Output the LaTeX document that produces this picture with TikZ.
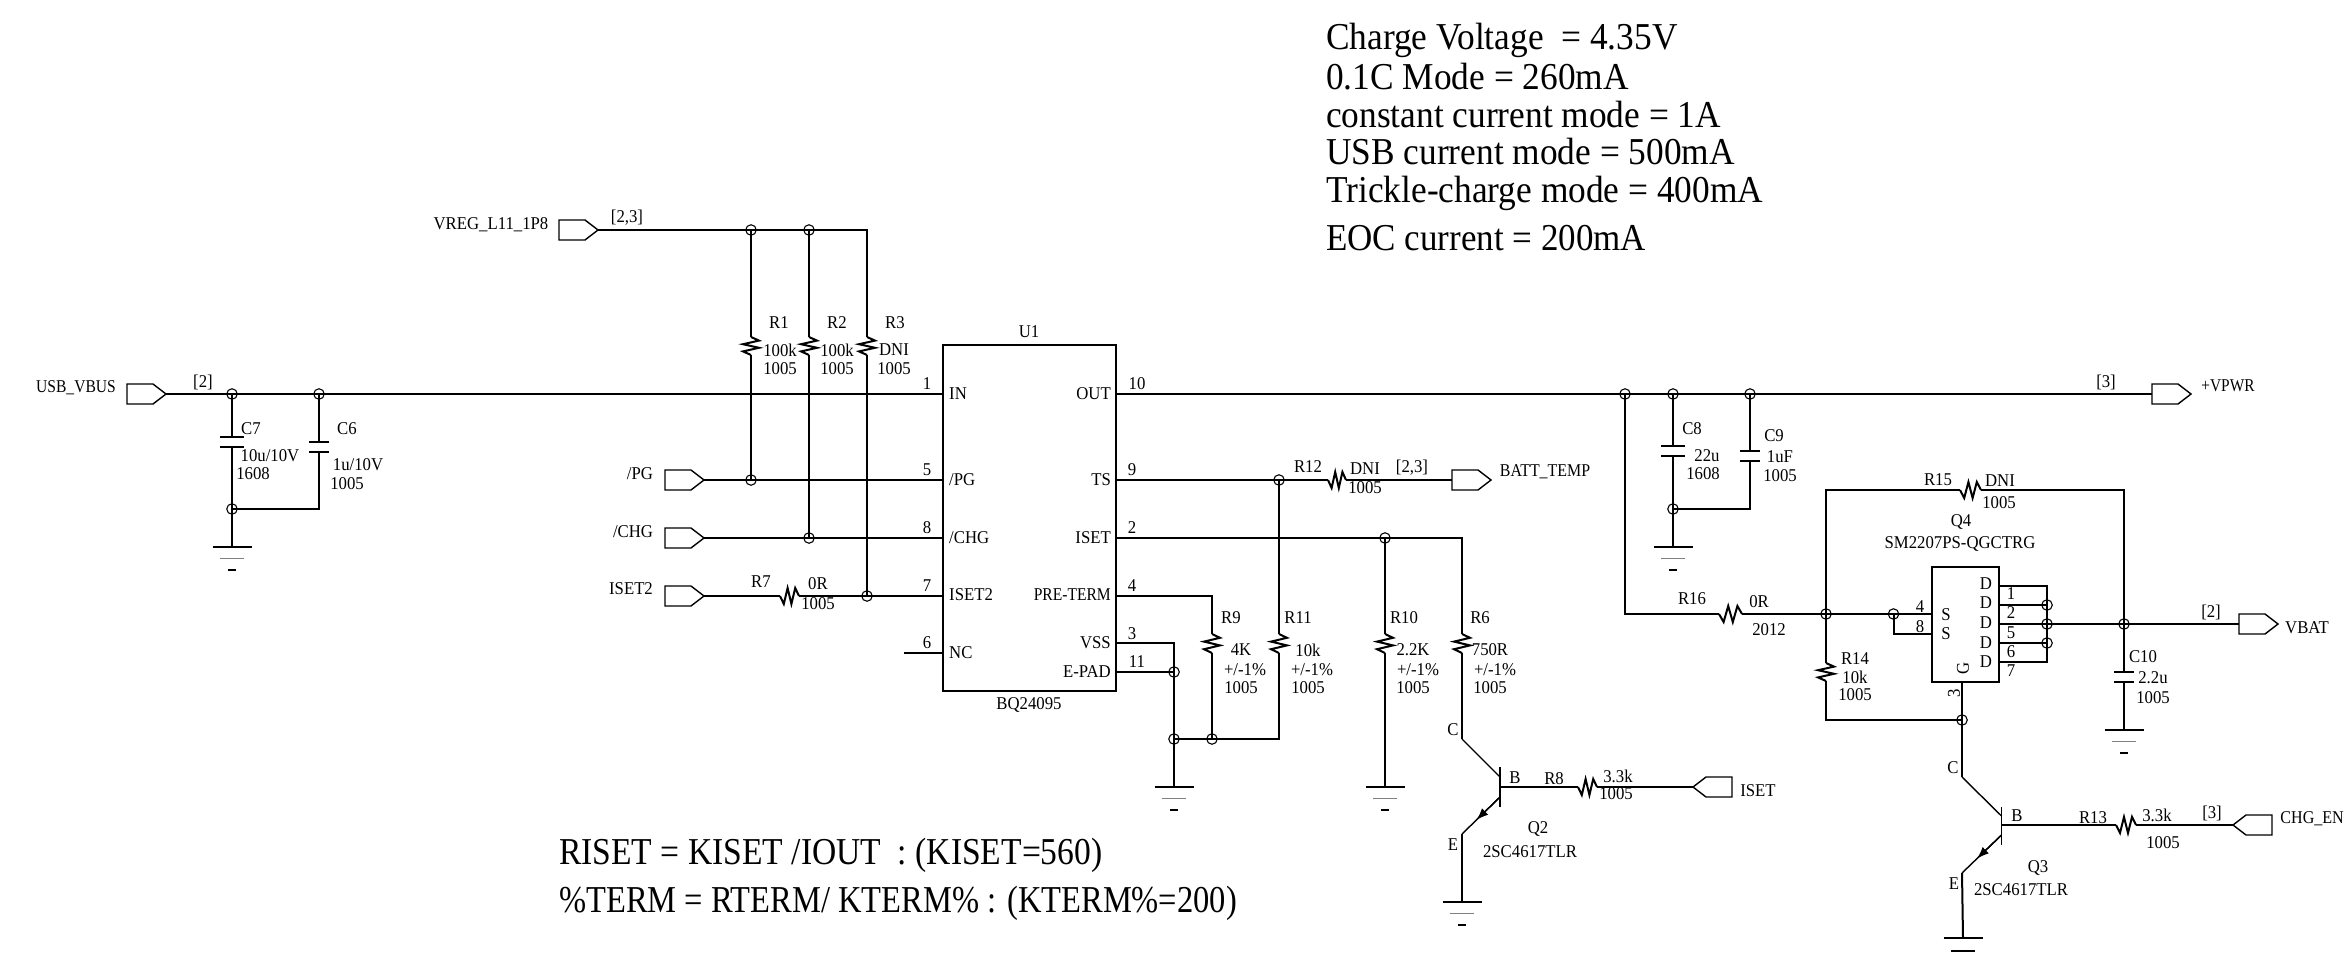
\documentclass[tikz,border=0pt]{standalone}
\usepackage{fontspec}
\usepackage{graphicx}
\usetikzlibrary{calc,arrows.meta}
\setmainfont[FakeStretch=0.93]{Liberation Serif}
\newcommand{\cnd}[2]{\scalebox{#1}[1]{#2}}
\tikzset{
  x=1pt,y=-1pt,
  wire/.style={line width=2pt,line join=miter},
  thinw/.style={line width=1.4pt},
  junc/.style={circle,draw,line width=1.1pt,minimum size=10.5pt,inner sep=0pt},
  lbl/.style={inner sep=0pt,font=\fontsize{18}{19}\selectfont},
  big/.style={inner sep=0pt,anchor=west,font=\fontsize{38}{40}\selectfont},
}
\newcommand{\resV}[4]{% name x y0 y1
  \coordinate (#1-a) at (#2,#3); \coordinate (#1-b) at (#2,#4);
  \draw[wire] (#1-a) -- ($(#1-a)!.2!(#1-b)+(8,0)$) -- ($(#1-a)!.4!(#1-b)+(-8,0)$)
   -- ($(#1-a)!.6!(#1-b)+(8,0)$) -- ($(#1-a)!.8!(#1-b)+(-8,0)$) -- (#1-b);}
\newcommand{\resH}[4]{% name x0 x1 y
  \coordinate (#1-a) at (#2,#4); \coordinate (#1-b) at (#3,#4);
  \draw[wire] (#1-a) -- ($(#1-a)!.2!(#1-b)+(0,8)$) -- ($(#1-a)!.4!(#1-b)+(0,-8)$)
   -- ($(#1-a)!.6!(#1-b)+(0,8)$) -- ($(#1-a)!.8!(#1-b)+(0,-8)$) -- (#1-b);}
\newcommand{\capV}[5]{% name x y0 y1 halfwidth
  \coordinate (#1-a) at (#2,#3); \coordinate (#1-b) at (#2,#4);
  \draw[wire] ($(#1-a)+(-#5,0)$) -- ($(#1-a)+(#5,0)$);
  \draw[wire] ($(#1-b)+(-#5,0)$) -- ($(#1-b)+(#5,0)$);}
\newcommand{\gnd}[3]{% name x y
  \coordinate (#1) at (#2,#3);
  \draw[thinw] ($(#1)+(-19.5,0)$) -- ($(#1)+(19.5,0)$);
  \draw[thinw,gray] ($(#1)+(-12,11.5)$) -- ($(#1)+(12,11.5)$);
  \draw[thinw] ($(#1)+(-4,23)$) -- ($(#1)+(4,23)$);}
\newcommand{\flagR}[3]{% name left-x y  (pointing right)
  \coordinate (#1-l) at (#2,#3); \coordinate (#1-r) at ($(#1-l)+(39,0)$);
  \draw[thinw] (#1-r) -- ++(-13,-10) -- ++(-26,0) -- ++(0,20) -- ++(26,0) -- cycle;}
\newcommand{\flagL}[3]{% name tip-x y  (pointing left)
  \coordinate (#1-l) at (#2,#3); \coordinate (#1-r) at ($(#1-l)+(39,0)$);
  \draw[thinw] (#1-l) -- ++(13,-10) -- ++(26,0) -- ++(0,20) -- ++(-26,0) -- cycle;}
\begin{document}
\begin{tikzpicture}
\useasboundingbox (0,0) rectangle (2345,961);
% ---------- big notes
\node[big] (n1) at (1326,40) {Charge Voltage\ \ = 4.35V};
\node[big] (n2) at (1326,76.5) {0.1C Mode = 260mA};
\node[big] (n3) at (1326,114.5) {constant current mode = 1A};
\node[big] (n4) at (1326,151.5) {USB current mode = 500mA};
\node[big] (n5) at (1326,193) {Trickle-charge mode = 400mA};
\node[big] (n6) at (1326,238.5) {\cnd{0.99}{EOC current = 200mA}};
\node[big] (n7) at (559,855) {\cnd{0.95}{RISET = KISET /IOUT\ \ : (KISET=560)}};
\node[big] (n8) at (559,903) {\cnd{0.92}{\%TERM = RTERM/ KTERM\% : (KTERM\%=200)}};
% ---------- flags
\flagR{fVbus}{127}{394}
\flagR{fVreg}{559}{230}
\flagR{fPG}{665}{480}
\flagR{fCHG}{665}{538}
\flagR{fIset2}{665}{596}
\flagR{fBatt}{1452}{480}
\flagR{fVpwr}{2152}{394}
\flagR{fVbat}{2239}{624}
\flagL{fIset}{1693}{787}
\flagL{fEn}{2233}{825}
% ---------- U1
\node[draw,line width=2pt,minimum width=173pt,minimum height=346pt,inner sep=0pt] (U1) at (1029.5,518) {};
\coordinate (pIN) at (943,394);
\coordinate (pPG) at (943,480);
\coordinate (pCHG) at (943,538);
\coordinate (pIS2) at (943,596);
\coordinate (pNC) at (943,653);
\coordinate (pOUT) at (1116,394);
\coordinate (pTS) at (1116,480);
\coordinate (pISET) at (1116,538);
\coordinate (pPRE) at (1116,596);
\coordinate (pVSS) at (1116,643);
\coordinate (pEP) at (1116,672);
\coordinate (ncEnd) at (904,653);
% ---------- Q4
\node[draw,line width=1.6pt,minimum width=67pt,minimum height=115pt,inner sep=0pt] (Q4) at (1965.5,624.5) {};
\coordinate (d1) at (1999,586);
\coordinate (d2) at (1999,605);
\coordinate (d3) at (1999,624);
\coordinate (d4) at (1999,643);
\coordinate (d5) at (1999,662);
\coordinate (s1) at (1932,614);
\coordinate (s2) at (1932,634);
\coordinate (qG) at (1962,682);
% ---------- junctions
\node[junc] (jC7) at (232,394) {};
\node[junc] (jC6) at (319,394) {};
\node[junc] (jC7b) at (232,509) {};
\node[junc] (jR1t) at (751,230) {};
\node[junc] (jR2t) at (809,230) {};
\coordinate (cR3t) at (867,230);
\node[junc] (jR1b) at (751,480) {};
\node[junc] (jR2b) at (809,538) {};
\node[junc] (jR3b) at (867,596) {};
\node[junc] (jTS) at (1279,480) {};
\node[junc] (jIS) at (1385,538) {};
\node[junc] (jEP) at (1174,672) {};
\node[junc] (jG1) at (1174,739) {};
\node[junc] (jG2) at (1212,739) {};
\node[junc] (jO1) at (1625,394) {};
\node[junc] (jO2) at (1673,394) {};
\node[junc] (jO3) at (1750,394) {};
\node[junc] (jC8b) at (1673,509) {};
\node[junc] (jS) at (1826,614) {};
\node[junc] (jS4) at (1893.5,614) {};
\node[junc] (jD2) at (2047,605) {};
\node[junc] (jD3) at (2047,624) {};
\node[junc] (jD4) at (2047,643) {};
\node[junc] (jB) at (2124,624) {};
\node[junc] (jGt) at (1962,720) {};
% ---------- passives
\resV{R1}{751}{337}{355}
\resV{R2}{809}{337}{355}
\resV{R3}{867}{337}{355}
\resH{R7}{780}{799}{596}
\resH{R12}{1328}{1346}{480}
\resV{R9}{1212}{634}{653}
\resV{R11}{1279}{634}{653}
\resV{R10}{1385}{634}{653}
\resV{R6}{1462}{634}{653}
\resH{R8}{1578}{1597}{787}
\resH{R13}{2116}{2136}{825}
\resH{R16}{1719}{1742}{614}
\resH{R15}{1960}{1981}{490}
\resV{R14}{1826}{663}{681}
\capV{C7}{232}{437}{447}{12}
\capV{C6}{319}{442}{452}{10}
\capV{C8}{1673}{446}{456}{12}
\capV{C9}{1750}{451}{461}{10}
\capV{C10}{2124}{672}{682}{10}
% ---------- grounds
\gnd{g7}{232}{547}
\gnd{g1}{1174}{787}
\gnd{g10}{1385}{787}
\gnd{g8}{1673}{547}
\gnd{g11}{2124}{730}
\gnd{gQ2}{1462}{902}
\coordinate (gQ3) at (1963,938);
\draw[thinw] ($(gQ3)+(-19.5,0)$) -- ($(gQ3)+(19.5,0)$);
\draw[thinw] ($(gQ3)+(-12,13)$) -- ($(gQ3)+(12,13)$);
% ---------- transistors
\coordinate (q2c) at (1462,739);
\coordinate (q2bc) at (1500,777);
\coordinate (q2be) at (1500,797);
\coordinate (q2b) at (1500,787);
\coordinate (q2e) at (1462,834);
\coordinate (q2t) at (1500,767);
\coordinate (q2u) at (1500,807);
\coordinate (q3c) at (1962,777);
\coordinate (q3bc) at (2001.5,816);
\coordinate (q3be) at (2001.5,835);
\coordinate (q3b) at (2001.5,825);
\coordinate (q3e) at (1962,873);
\coordinate (q3t) at (2001.5,807);
\coordinate (q3u) at (2001.5,845);
\draw[thinw] (q2t) -- (q2u);
\draw[thinw] (q3t) -- (q3u);
\draw[thinw] (q2c) -- (q2bc);
\draw[thinw] (q3c) -- (q3bc);
\draw[thinw,-{Latex[length=12pt,width=9pt]}] (q2be) -- ($(q2be)!.62!(q2e)$);
\draw[thinw] (q2be) -- (q2e);
\draw[thinw,-{Latex[length=12pt,width=9pt]}] (q3be) -- ($(q3be)!.62!(q3e)$);
\draw[thinw] (q3be) -- (q3e);
% ---------- wires
\draw[wire] (fVbus-r) -- (jC7.center) -- (jC6.center) -- (pIN);
\draw[wire] (jC7.center) -- (C7-a);
\draw[wire] (C7-b) -- (jC7b.center) -- (g7);
\draw[wire] (jC6.center) -- (C6-a);
\draw[wire] (C6-b) |- (jC7b.center);
\draw[wire] (fVreg-r) -- (jR1t.center) -- (jR2t.center) -- (cR3t) -- (R3-a);
\draw[wire] (jR1t.center) -- (R1-a);
\draw[wire] (jR2t.center) -- (R2-a);
\draw[wire] (R1-b) -- (jR1b.center);
\draw[wire] (R2-b) -- (jR2b.center);
\draw[wire] (R3-b) -- (jR3b.center);
\draw[wire] (fPG-r) -- (jR1b.center) -- (pPG);
\draw[wire] (fCHG-r) -- (jR2b.center) -- (pCHG);
\draw[wire] (fIset2-r) -- (R7-a);
\draw[wire] (R7-b) -- (jR3b.center) -- (pIS2);
\draw[wire] (ncEnd) -- (pNC);
\draw[wire] (pOUT) -- (jO1.center) -- (jO2.center) -- (jO3.center) -- (fVpwr-l);
\draw[wire] (pTS) -- (jTS.center) -- (R12-a);
\draw[wire] (R12-b) -- (fBatt-l);
\draw[wire] (jTS.center) -- (R11-a);
\draw[wire] (R11-b) |- (jG2.center) -- (jG1.center);
\draw[wire] (pISET) -- (jIS.center) -| (R6-a);
\draw[wire] (jIS.center) -- (R10-a);
\draw[wire] (R10-b) -- (g10);
\draw[wire] (R6-b) -- (q2c);
\draw[wire] (pPRE) -| (R9-a);
\draw[wire] (R9-b) -- (jG2.center);
\draw[wire] (pVSS) -| (jEP.center);
\draw[wire] (pEP) -- (jEP.center) -- (jG1.center) -- (g1);
\draw[wire] (q2b) -- (R8-a);
\draw[wire] (R8-b) -- (fIset-l);
\draw[wire] (q2e) -- (gQ2);
\draw[wire] (jO2.center) -- (C8-a);
\draw[wire] (C8-b) -- (jC8b.center) -- (g8);
\draw[wire] (jO3.center) -- (C9-a);
\draw[wire] (C9-b) |- (jC8b.center);
\draw[wire] (jO1.center) |- (R16-a);
\draw[wire] (R16-b) -- (jS.center) -- (jS4.center) -- (s1);
\draw[wire] (jS4.center) |- (s2);
\draw[wire] (jS.center) |- (R15-a);
\draw[wire] (R15-b) -| (jB.center);
\draw[wire] (jS.center) -- (R14-a);
\draw[wire] (R14-b) |- (jGt.center);
\draw[wire] (qG) -- (jGt.center) -- (q3c);
\draw[wire] (d1) -| (jD2.center);
\draw[wire] (d2) -- (jD2.center) -- (jD3.center) -- (jD4.center);
\draw[wire] (d3) -- (jD3.center) -- (jB.center) -- (fVbat-l);
\draw[wire] (d4) -- (jD4.center);
\draw[wire] (d5) -| (jD4.center);
\draw[wire] (jB.center) -- (C10-a);
\draw[wire] (C10-b) -- (g11);
\draw[wire] (q3b) -- (R13-a);
\draw[wire] (R13-b) -- (fEn-l);
\draw[wire] (q3e) -- (gQ3);
% ---------- net labels
\node[lbl] (t1) at (76,388) {\cnd{0.93}{USB\_VBUS}};
\node[lbl] (t2) at (203,382) {[2]};
\node[lbl] (t3) at (491,225) {VREG\_L11\_1P8};
\node[lbl] (t4) at (627,218) {[2,3]};
\node[lbl] (t5) at (640,474) {/PG};
\node[lbl] (t6) at (633,532) {/CHG};
\node[lbl] (t7) at (631,589) {ISET2};
\node[lbl] (t8) at (1545,472) {\cnd{0.95}{BATT\_TEMP}};
\node[lbl] (t9) at (1412,468) {[2,3]};
\node[lbl] (t10) at (2228,386) {\cnd{0.92}{+VPWR}};
\node[lbl] (t11) at (2106,382) {[3]};
\node[lbl] (t12) at (2307,628) {VBAT};
\node[lbl] (t13) at (2211,612) {[2]};
\node[lbl] (t14) at (1758,791) {ISET};
\node[lbl,anchor=east] (t15) at (2344,819) {\cnd{0.96}{CHG\_EN}};
\node[lbl] (t16) at (2212,813) {[3]};
% ---------- caps
\node[lbl] (c1) at (251,429) {C7};
\node[lbl] (c2) at (270,456) {10u/10V};
\node[lbl] (c3) at (253,474) {1608};
\node[lbl] (c4) at (347,429) {C6};
\node[lbl] (c5) at (358,465) {1u/10V};
\node[lbl] (c6) at (347,484) {1005};
\node[lbl] (c7) at (1692,429) {C8};
\node[lbl] (c8) at (1707,456) {22u};
\node[lbl] (c9) at (1703,474) {1608};
\node[lbl] (c10) at (1774,436) {C9};
\node[lbl] (c11) at (1780,457) {1uF};
\node[lbl] (c12) at (1780,476) {1005};
\node[lbl] (c13) at (2143,657) {C10};
\node[lbl] (c14) at (2153,678) {2.2u};
\node[lbl] (c15) at (2153,698) {1005};
% ---------- resistors
\node[lbl] (r1) at (779,323) {R1};
\node[lbl] (r1v) at (780,350) {100k};
\node[lbl] (r1p) at (780,369) {1005};
\node[lbl] (r2) at (837,323) {R2};
\node[lbl] (r2v) at (837,350) {100k};
\node[lbl] (r2p) at (837,369) {1005};
\node[lbl] (r3) at (895,323) {R3};
\node[lbl] (r3v) at (894,350) {DNI};
\node[lbl] (r3p) at (894,369) {1005};
\node[lbl] (r7) at (761,582) {R7};
\node[lbl] (r7v) at (818,584) {0R};
\node[lbl] (r7p) at (818,604) {1005};
\node[lbl] (r12) at (1308,467) {R12};
\node[lbl] (r12v) at (1365,469) {DNI};
\node[lbl] (r12p) at (1365,488) {1005};
\node[lbl] (r9) at (1231,618) {R9};
\node[lbl] (r9v) at (1241,650) {4K};
\node[lbl] (r9t) at (1245,670) {+/-1\%};
\node[lbl] (r9p) at (1241,688) {1005};
\node[lbl] (r11) at (1298,618) {R11};
\node[lbl] (r11v) at (1308,650) {10k};
\node[lbl] (r11t) at (1312,670) {+/-1\%};
\node[lbl] (r11p) at (1308,688) {1005};
\node[lbl] (r10) at (1404,618) {R10};
\node[lbl] (r10v) at (1413,650) {2.2K};
\node[lbl] (r10t) at (1418,670) {+/-1\%};
\node[lbl] (r10p) at (1413,688) {1005};
\node[lbl] (r6) at (1480,618) {R6};
\node[lbl] (r6v) at (1490,650) {750R};
\node[lbl] (r6t) at (1495,670) {+/-1\%};
\node[lbl] (r6p) at (1490,688) {1005};
\node[lbl] (r8) at (1554,779) {R8};
\node[lbl] (r8v) at (1618,776) {3.3k};
\node[lbl] (r8p) at (1616,794) {1005};
\node[lbl] (r13) at (2093,818) {R13};
\node[lbl] (r13v) at (2157,815) {3.3k};
\node[lbl] (r13p) at (2163,843) {1005};
\node[lbl] (r16) at (1692,599) {R16};
\node[lbl] (r16v) at (1759,602) {0R};
\node[lbl] (r16p) at (1769,630) {2012};
\node[lbl] (r15) at (1938,480) {R15};
\node[lbl] (r15v) at (2000,481) {DNI};
\node[lbl] (r15p) at (1999,503) {1005};
\node[lbl] (r14) at (1855,659) {R14};
\node[lbl] (r14v) at (1855,677) {10k};
\node[lbl] (r14p) at (1855,695) {1005};
% ---------- U1 text
\node[lbl] (u1a) at (1029,332) {U1};
\node[lbl] (u1b) at (1029,705) {BQ24095};
\node[lbl,anchor=west] (ul1) at (949,394) {IN};
\node[lbl,anchor=west] (ul2) at (949,480) {/PG};
\node[lbl,anchor=west] (ul3) at (949,538) {/CHG};
\node[lbl,anchor=west] (ul4) at (949,595) {ISET2};
\node[lbl,anchor=west] (ul5) at (949,653) {NC};
\node[lbl,anchor=east] (ur1) at (1111,394) {OUT};
\node[lbl,anchor=east] (ur2) at (1111,480) {TS};
\node[lbl,anchor=east] (ur3) at (1111,538) {ISET};
\node[lbl,anchor=east] (ur4) at (1111,595) {\cnd{0.93}{PRE-TERM}};
\node[lbl,anchor=east] (ur5) at (1111,643) {VSS};
\node[lbl,anchor=east] (ur6) at (1111,672) {E-PAD};
\node[lbl] (pn1) at (927,384) {1};
\node[lbl] (pn5) at (927,470) {5};
\node[lbl] (pn8) at (927,528) {8};
\node[lbl] (pn7) at (927,586) {7};
\node[lbl] (pn6) at (927,643) {6};
\node[lbl] (pn10) at (1137,384) {10};
\node[lbl] (pn9) at (1132,470) {9};
\node[lbl] (pn2) at (1132,528) {2};
\node[lbl] (pn4) at (1132,586) {4};
\node[lbl] (pn3) at (1132,634) {3};
\node[lbl] (pn11) at (1137,662) {11};
% ---------- Q labels
\node[lbl] (qa1) at (1453,730) {C};
\node[lbl] (qa2) at (1515,778) {B};
\node[lbl] (qa3) at (1453,845) {E};
\node[lbl] (qa4) at (1538,829) {Q2};
\node[lbl] (qa5) at (1530,852) {2SC4617TLR};
\node[lbl] (qb1) at (1953,768) {C};
\node[lbl] (qb2) at (2017,816) {B};
\node[lbl] (qb3) at (1954,884) {E};
\node[lbl] (qb4) at (2038,868) {Q3};
\node[lbl] (qb5) at (2021,890) {2SC4617TLR};
\node[lbl] (qc1) at (1961,522) {Q4};
\node[lbl] (qc2) at (1960,544) {SM2207PS-QGCTRG};
\node[lbl] (qd1) at (1986,584) {D};
\node[lbl] (qd2) at (1986,603) {D};
\node[lbl] (qd3) at (1986,623) {D};
\node[lbl] (qd4) at (1986,643) {D};
\node[lbl] (qd5) at (1986,662) {D};
\node[lbl] (qs1) at (1946,615) {S};
\node[lbl] (qs2) at (1946,634) {S};
\node[lbl,rotate=90] (qg) at (1963,668) {G};
\node[lbl,rotate=90] (qp3) at (1954,693) {3};
\node[lbl] (qp1) at (2011,594) {1};
\node[lbl] (qp2) at (2011,613) {2};
\node[lbl] (qp5) at (2011,633) {5};
\node[lbl] (qp6) at (2011,652) {6};
\node[lbl] (qp7) at (2011,671) {7};
\node[lbl] (qp4) at (1920,607) {4};
\node[lbl] (qp8) at (1920,627) {8};
\end{tikzpicture}
\end{document}
